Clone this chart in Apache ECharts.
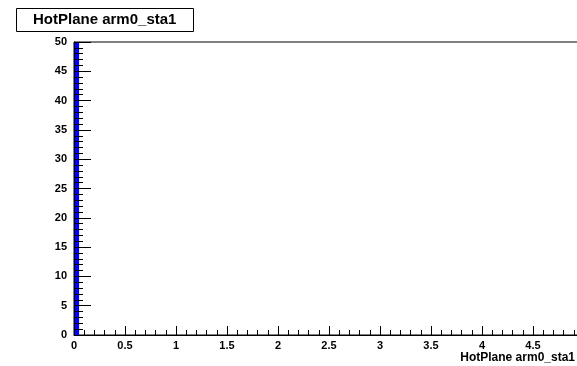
<!DOCTYPE html>
<html>
<head>
<meta charset="utf-8">
<script src="https://cdn.jsdelivr.net/npm/echarts@6/dist/echarts.min.js"></script>
<style>
  html, body { margin: 0; padding: 0; background: #fff; }
  #chart { width: 577px; height: 366px; }
</style>
</head>
<body>
<div id="chart"></div>
<script>
// histogram bins: [low edge, high edge, count]
const binLow = [0];
const binHigh = [0.05];
const binCount = [50];
const histTitle = "HotPlane arm0_sta1";
const xTitle = "HotPlane arm0_sta1";

const font = "Liberation Sans, Arial, Helvetica, sans-serif";
const chart = echarts.init(document.getElementById("chart"));

const bins = binLow.map((lo, i) => [lo, binHigh[i], binCount[i]]);

chart.setOption({
  animation: false,
  title: [
    {
      text: histTitle,
      left: 16,
      top: 8,
      padding: [4, 17, 5, 17],
      borderColor: "#000",
      borderWidth: 1,
      backgroundColor: "#fff",
      textStyle: { fontFamily: font, fontWeight: "bold", fontSize: 15, color: "#000" },
    },
    {
      text: xTitle,
      right: 2,
      top: 352,
      padding: 0,
      textStyle: { fontFamily: font, fontWeight: "bold", fontSize: 12, color: "#000" },
    },
  ],
  grid: {
    left: 74,
    top: 42,
    width: 510,
    height: 293,
    outerBoundsMode: "none",
    containLabel: false,
    show: true,
    borderColor: "#000",
    borderWidth: 1,
    backgroundColor: "transparent",
  },
  xAxis: {
    type: "value",
    min: 0,
    max: 5,
    interval: 0.5,
    z: 5,
    axisLine: { show: true, onZero: false, lineStyle: { color: "#000", width: 1 } },
    axisTick: { show: true, inside: true, length: 9, lineStyle: { color: "#000" } },
    minorTick: { show: true, splitNumber: 5, length: 5, lineStyle: { color: "#000" } },
    splitLine: { show: false },
    axisLabel: {
      margin: 5,
      fontFamily: font,
      fontWeight: "bold",
      fontSize: 11,
      color: "#000",
      showMaxLabel: false,
    },
  },
  yAxis: {
    type: "value",
    min: 0,
    max: 50,
    interval: 5,
    z: 5,
    axisLine: { show: true, onZero: false, lineStyle: { color: "#000", width: 1 } },
    axisTick: { show: true, inside: true, length: 17, lineStyle: { color: "#000" } },
    minorTick: { show: true, splitNumber: 5, length: 9, lineStyle: { color: "#000" } },
    splitLine: { show: false },
    axisLabel: {
      margin: 7,
      fontFamily: font,
      fontWeight: "bold",
      fontSize: 11,
      color: "#000",
    },
  },
  series: [
    {
      type: "custom",
      z: 1,
      data: bins,
      encode: { x: [0, 1], y: 2 },
      renderItem: function (params, api) {
        const p0 = api.coord([api.value(0), 0]);
        const p1 = api.coord([api.value(1), api.value(2)]);
        return {
          type: "rect",
          shape: { x: p0[0], y: p1[1], width: p1[0] - p0[0], height: p0[1] - p1[1] },
          style: { fill: "#0000ff" },
        };
      },
    },
  ],
});
</script>
</body>
</html>
